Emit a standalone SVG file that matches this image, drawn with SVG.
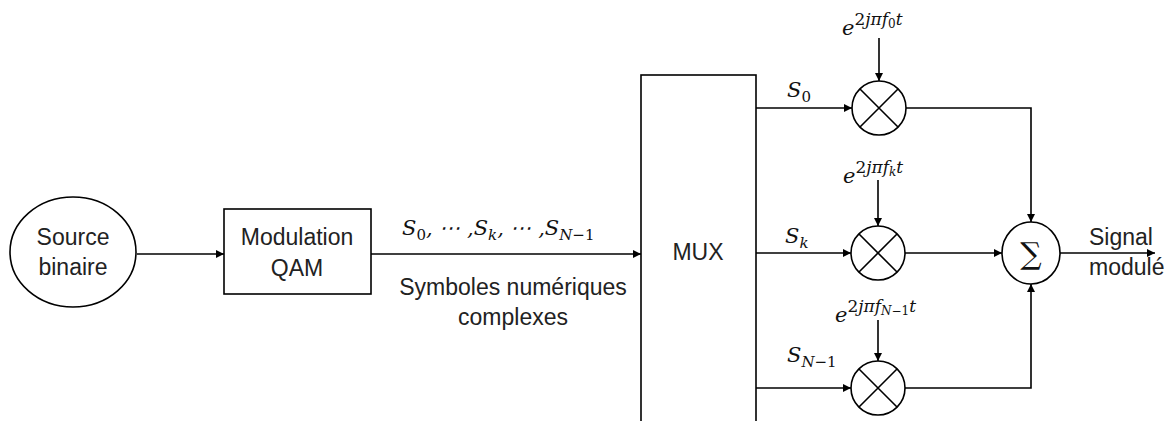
<svg xmlns="http://www.w3.org/2000/svg" width="1175" height="421" viewBox="0 0 1175 421">
<defs>
<marker id="ah" viewBox="0 0 10 10" refX="10" refY="5" markerWidth="9" markerHeight="8" markerUnits="userSpaceOnUse" orient="auto">
<path d="M0,0 L10,5 L0,10 z" fill="#000"/>
</marker>
</defs>
<style>
.shape{fill:#fff;stroke:#000;stroke-width:1.6}
.ln{fill:none;stroke:#000;stroke-width:1.6}
.arr{fill:none;stroke:#000;stroke-width:1.6;marker-end:url(#ah)}
.lbl{font-family:"Liberation Sans",Arial,sans-serif;font-size:23px;fill:#222}
.m{font-family:"DejaVu Serif","Liberation Serif",serif;font-size:21px;font-style:italic;fill:#111}
.up{font-style:normal}
.sub{font-size:15px}
.sup{font-size:17px}
.ssub{font-size:12px}
</style>
<rect width="1175" height="421" fill="#fff"/>

<g id="source">
<ellipse class="shape" cx="73" cy="252" rx="63" ry="55"/>
<text class="lbl" x="73" y="245" text-anchor="middle">Source</text>
<text class="lbl" x="73" y="275" text-anchor="middle">binaire</text>
</g>

<g id="qam">
<rect class="shape" x="224" y="209" width="147" height="85"/>
<text class="lbl" x="297" y="245" text-anchor="middle">Modulation</text>
<text class="lbl" x="297" y="276" text-anchor="middle">QAM</text>
</g>

<g id="mux">
<rect class="shape" x="641" y="75" width="115" height="360"/>
<text class="lbl" x="698" y="260" text-anchor="middle">MUX</text>
</g>

<g id="mult0">
<circle class="shape" cx="879" cy="108" r="27"/>
<path class="ln" d="M860,89 L898,127 M898,89 L860,127"/>
</g>
<g id="multk">
<circle class="shape" cx="878" cy="253" r="27"/>
<path class="ln" d="M859,234 L897,272 M897,234 L859,272"/>
</g>
<g id="multN">
<circle class="shape" cx="878" cy="388" r="27"/>
<path class="ln" d="M859,369 L897,407 M897,369 L859,407"/>
</g>

<g id="sum">
<ellipse class="shape" cx="1031" cy="253" rx="29" ry="31"/>
<text x="1031" y="264" text-anchor="middle" style="font-family:'DejaVu Serif',serif;font-size:30px;fill:#111">∑</text>
</g>

<g id="connectors">
<line class="arr" x1="137" y1="254" x2="224" y2="254"/>
<line class="arr" x1="371" y1="254" x2="641" y2="254"/>
<line class="arr" x1="756" y1="108" x2="852" y2="108"/>
<line class="arr" x1="756" y1="253" x2="851" y2="253"/>
<line class="arr" x1="756" y1="388" x2="851" y2="388"/>
<line class="arr" x1="879" y1="38" x2="879" y2="81"/>
<line class="arr" x1="878" y1="180" x2="878" y2="226"/>
<line class="arr" x1="878" y1="320" x2="878" y2="361"/>
<polyline class="arr" points="906,108 1031,108 1031,222"/>
<line class="arr" x1="905" y1="253" x2="1002" y2="253"/>
<polyline class="arr" points="905,388 1031,388 1031,284"/>
<line class="arr" x1="1060" y1="253" x2="1155" y2="253"/>
</g>

<g id="labels">
<text class="m" x="402" y="235">S<tspan class="up sub" dy="5">0</tspan><tspan dy="-5">, ⋯ ,S</tspan><tspan class="sub" dy="5">k</tspan><tspan dy="-5">, ⋯ ,S</tspan><tspan class="sub" dy="5">N</tspan><tspan class="up sub">−1</tspan></text>
<text class="lbl" x="513" y="295" text-anchor="middle">Symboles numériques</text>
<text class="lbl" x="513" y="325" text-anchor="middle">complexes</text>

<text class="m" x="787" y="97">S<tspan class="up sub" dy="5">0</tspan></text>
<text class="m" x="785" y="243">S<tspan class="sub" dy="5">k</tspan></text>
<text class="m" x="787" y="362">S<tspan class="sub" dy="5">N</tspan><tspan class="up sub">−1</tspan></text>

<text class="m" x="842" y="35">e<tspan class="sup up" dy="-10">2</tspan><tspan class="sup">jπf</tspan><tspan class="ssub up" dy="3">0</tspan><tspan class="sup" dy="-3">t</tspan></text>
<text class="m" x="843" y="183">e<tspan class="sup up" dy="-10">2</tspan><tspan class="sup">jπf</tspan><tspan class="ssub" dy="3">k</tspan><tspan class="sup" dy="-3">t</tspan></text>
<text class="m" x="835" y="322">e<tspan class="sup up" dy="-10">2</tspan><tspan class="sup">jπf</tspan><tspan class="ssub" dy="3">N</tspan><tspan class="ssub up">−1</tspan><tspan class="sup" dy="-3">t</tspan></text>

<text class="lbl" x="1089" y="245">Signal</text>
<text class="lbl" x="1089" y="275">modulé</text>
</g>
</svg>
